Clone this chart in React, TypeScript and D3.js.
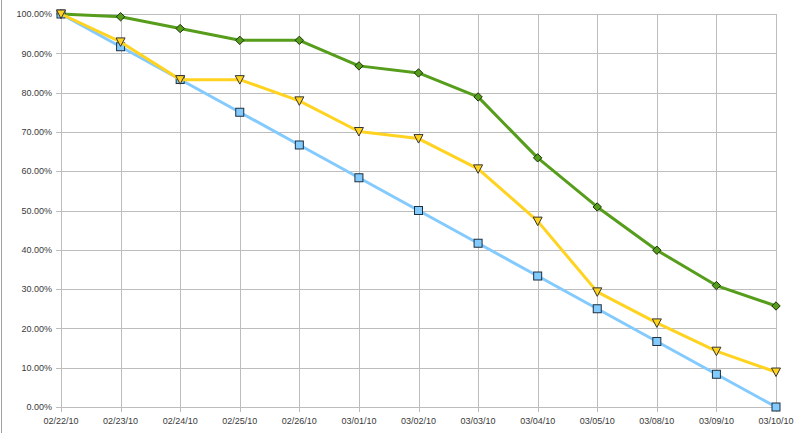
import React from "react";
import * as d3 from "d3";

const categories = ["02/22/10","02/23/10","02/24/10","02/25/10","02/26/10","03/01/10","03/02/10","03/03/10","03/04/10","03/05/10","03/08/10","03/09/10","03/10/10"];
const ideal = [100, 91.67, 83.33, 75, 66.67, 58.33, 50, 41.67, 33.33, 25, 16.67, 8.33, 0];
const yellowSeries = [100, 92.9, 83.3, 83.3, 77.9, 70.1, 68.3, 60.6, 47.3, 29.3, 21.4, 14.2, 8.9];
const greenSeries = [100, 99.3, 96.3, 93.3, 93.3, 86.8, 85.0, 78.9, 63.4, 50.9, 39.9, 30.9, 25.7];
const yTicks = [0, 10, 20, 30, 40, 50, 60, 70, 80, 90, 100];

export default function App() {
  const W = 800, H = 433;
  const x = d3.scalePoint<string>().domain(categories).range([61, 776]);
  const y = d3.scaleLinear().domain([0, 100]).range([407, 14]);
  const line = d3.line<number>().x((_, i) => x(categories[i])!).y(d => y(d));
  const font = "'Liberation Sans', Arial, sans-serif";
  const sq = 4, dm = 4.2;
  return (
    <svg width={W} height={H} style={{ position: "absolute", left: 0, top: 0, background: "#fff" }}>
      <rect x={0} y={0} width={W} height={H} fill="#fff" />
      <line x1={1.5} x2={1.5} y1={0} y2={H} stroke="#a0a0a0" />
      {yTicks.map(t => (
        <g key={t}>
          <line x1={56} x2={776} y1={Math.round(y(t)) + 0.5} y2={Math.round(y(t)) + 0.5} stroke="#bdbdbd" />
          <text x={52} y={y(t) + 3.2} textAnchor="end" fontFamily={font} fontSize={9} fill="#3a3a3a">{t.toFixed(2)}%</text>
        </g>
      ))}
      {categories.map(c => (
        <g key={c}>
          <line x1={Math.round(x(c)!) + 0.5} x2={Math.round(x(c)!) + 0.5} y1={14} y2={412} stroke="#bdbdbd" />
          <text x={x(c)!} y={424} textAnchor="middle" fontFamily={font} fontSize={9} fill="#3a3a3a">{c}</text>
        </g>
      ))}
      <path d={line(greenSeries)!} fill="none" stroke="#579d1c" strokeWidth={3} strokeLinejoin="round" />
      {greenSeries.map((v, i) => {
        const cx = x(categories[i])!, cy = y(v);
        return <path key={"g" + i} d={`M${cx},${cy - dm} L${cx + dm},${cy} L${cx},${cy + dm} L${cx - dm},${cy} Z`} fill="#579d1c" stroke="#1a2e08" strokeWidth={1} />;
      })}
      <path d={line(ideal)!} fill="none" stroke="#83caff" strokeWidth={3} strokeLinejoin="round" />
      {ideal.map((v, i) => (
        <rect key={"b" + i} x={x(categories[i])! - sq} y={y(v) - sq} width={sq * 2} height={sq * 2} fill="#83caff" stroke="#1e2f3c" strokeWidth={1} />
      ))}
      <path d={line(yellowSeries)!} fill="none" stroke="#ffd320" strokeWidth={3} strokeLinejoin="round" />
      {yellowSeries.map((v, i) => {
        const cx = x(categories[i])!, cy = y(v);
        return <path key={"y" + i} d={`M${cx - 4.5},${cy - 4} L${cx + 4.5},${cy - 4} L${cx},${cy + 4.5} Z`} fill="#ffd320" stroke="#333" strokeWidth={1} />;
      })}
    </svg>
  );
}
